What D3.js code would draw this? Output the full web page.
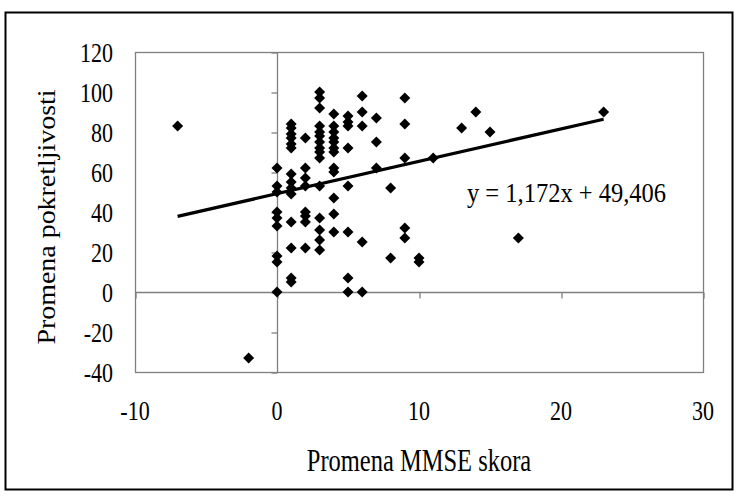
<!DOCTYPE html>
<html>
<head>
<meta charset="utf-8">
<script src="https://cdn.jsdelivr.net/npm/d3@7"></script>
<style>
  html, body { margin: 0; padding: 0; background: #fff; }
  svg { display: block; }
  text { font-family: "Liberation Serif", "Times New Roman", Times, serif; fill: #000; }
</style>
</head>
<body>
<svg id="chart" width="736" height="496"></svg>
<script>
// ---- data ----
const mmseChange = [
  0,0,0,0,0,0,0,0,0,
  1,1,1,1,1,1,1,1,1,1,1,1,1,1,
  2,2,2,2,2,2,2,2,
  3,3,3,3,3,3,3,3,3,3,3,3,3,3,3,
  4,4,4,4,4,4,4,4,4,4,4,4,
  5,5,5,5,5,5,5,5,
  6,6,6,6,6,
  7,7,7,
  8,8,
  9,9,9,9,9,
  10,10,
  11,13,14,15,17,23,-7,-2
];
const mobilityChange = [
  62,53,50,40,37,33,18,15,0,
  84,82,79,77,74,72,59,55,49,35,22,7,5,52,
  77,62,57,53,40,38,35,22,
  100,97,92,83,80,78,75,72,70,67,53,37,31,26,21,
  89,83,80,77,75,72,70,62,60,47,39,30,
  88,85,83,72,53,30,7,0,
  98,90,83,25,0,
  87,75,62,
  52,17,
  97,84,67,32,27,
  17,15,
  67,82,90,80,27,90,83,-33
];
const trendX = [-7, 23];
const trendY = [37.8, 86.4];
const equationLabel = "y = 1,172x + 49,406";
const xTicks = [-10, 0, 10, 20, 30];
const yTicks = [-40, -20, 0, 20, 40, 60, 80, 100, 120];
const xTitle = "Promena MMSE skora";
const yTitle = "Promena pokretljivosti";

// ---- layout ----
const svg = d3.select("#chart");
const plot = { left: 135, right: 703, top: 52, bottom: 372 };
const x = d3.scaleLinear().domain([-10, 30]).range([plot.left, plot.right]);
const y = d3.scaleLinear().domain([-40, 120]).range([plot.bottom, plot.top]);
const axisGray = "#808080";
const stretch = 1.25;   // text in the reference is vertically elongated

// outer chart border
svg.append("rect")
  .attr("x", 5.5).attr("y", 12.5).attr("width", 727).attr("height", 477)
  .attr("fill", "#fff").attr("stroke", "#000").attr("stroke-width", 2);

// plot area border
svg.append("rect")
  .attr("x", plot.left + 0.5).attr("y", plot.top + 0.5)
  .attr("width", plot.right - plot.left).attr("height", plot.bottom - plot.top)
  .attr("fill", "none").attr("stroke", axisGray).attr("stroke-width", 1.3);

// horizontal axis at y = 0 with ticks downward
const xAxis = d3.axisBottom(x).tickValues(xTicks).tickSize(6).tickFormat("");
const gx = svg.append("g").attr("transform", `translate(0.5,${Math.round(y(0)) + 0.5})`).call(xAxis);
gx.selectAll("path, line").attr("stroke", axisGray).attr("stroke-width", 1.3);
gx.select(".domain").attr("d", `M${x(-10)},0H${x(30)}`);

// vertical axis at x = 0 with ticks to the left
const yAxis = d3.axisLeft(y).tickValues(yTicks).tickSize(6).tickFormat("");
const gy = svg.append("g").attr("transform", `translate(${Math.round(x(0)) + 0.5},0.5)`).call(yAxis);
gy.selectAll("path, line").attr("stroke", axisGray).attr("stroke-width", 1.3);
gy.select(".domain").attr("d", `M0,${y(-40)}V${y(120)}`);

// tick labels (low position: along plot edges)
svg.append("g").selectAll("text").data(yTicks).join("text")
  .attr("transform", d => `translate(${plot.left - 22},${y(d)}) scale(1,${stretch})`)
  .attr("dy", "0.35em").attr("text-anchor", "end")
  .attr("font-size", 22).text(d => d);

svg.append("g").selectAll("text").data(xTicks).join("text")
  .attr("transform", d => `translate(${x(d)},${plot.bottom + 38}) scale(1,${stretch})`)
  .attr("dy", "0.35em").attr("text-anchor", "middle")
  .attr("font-size", 22).text(d => d);

// axis titles
svg.append("text")
  .attr("transform", `translate(${(plot.left + plot.right) / 2},${plot.bottom + 88}) scale(1,${stretch})`)
  .attr("dy", "0.35em").attr("text-anchor", "middle").attr("font-size", 24.5).text(xTitle);

svg.append("text")
  .attr("transform", `translate(55,${(plot.top + plot.bottom) / 2 + 5}) scale(1,1.14) rotate(-90)`)
  .attr("text-anchor", "middle").attr("font-size", 24.5).text(yTitle);

// trendline
const line = d3.line().x(d => x(d[0])).y(d => y(d[1]));
svg.append("path")
  .datum(trendX.map((v, i) => [v, trendY[i]]))
  .attr("d", line).attr("fill", "none")
  .attr("stroke", "#000").attr("stroke-width", 3.2);

// diamond markers
const diamond = (cx, cy, r) => `M${cx},${cy - r}L${cx + r},${cy}L${cx},${cy + r}L${cx - r},${cy}Z`;
svg.append("g").selectAll("path").data(mmseChange.map((v, i) => [v, mobilityChange[i]])).join("path")
  .attr("d", d => diamond(x(d[0]), y(d[1]), 5.5))
  .attr("fill", "#000");

// equation label
svg.append("text")
  .attr("transform", `translate(467,202) scale(1,1.1)`)
  .attr("font-size", 24.5).text(equationLabel);
</script>
</body>
</html>
